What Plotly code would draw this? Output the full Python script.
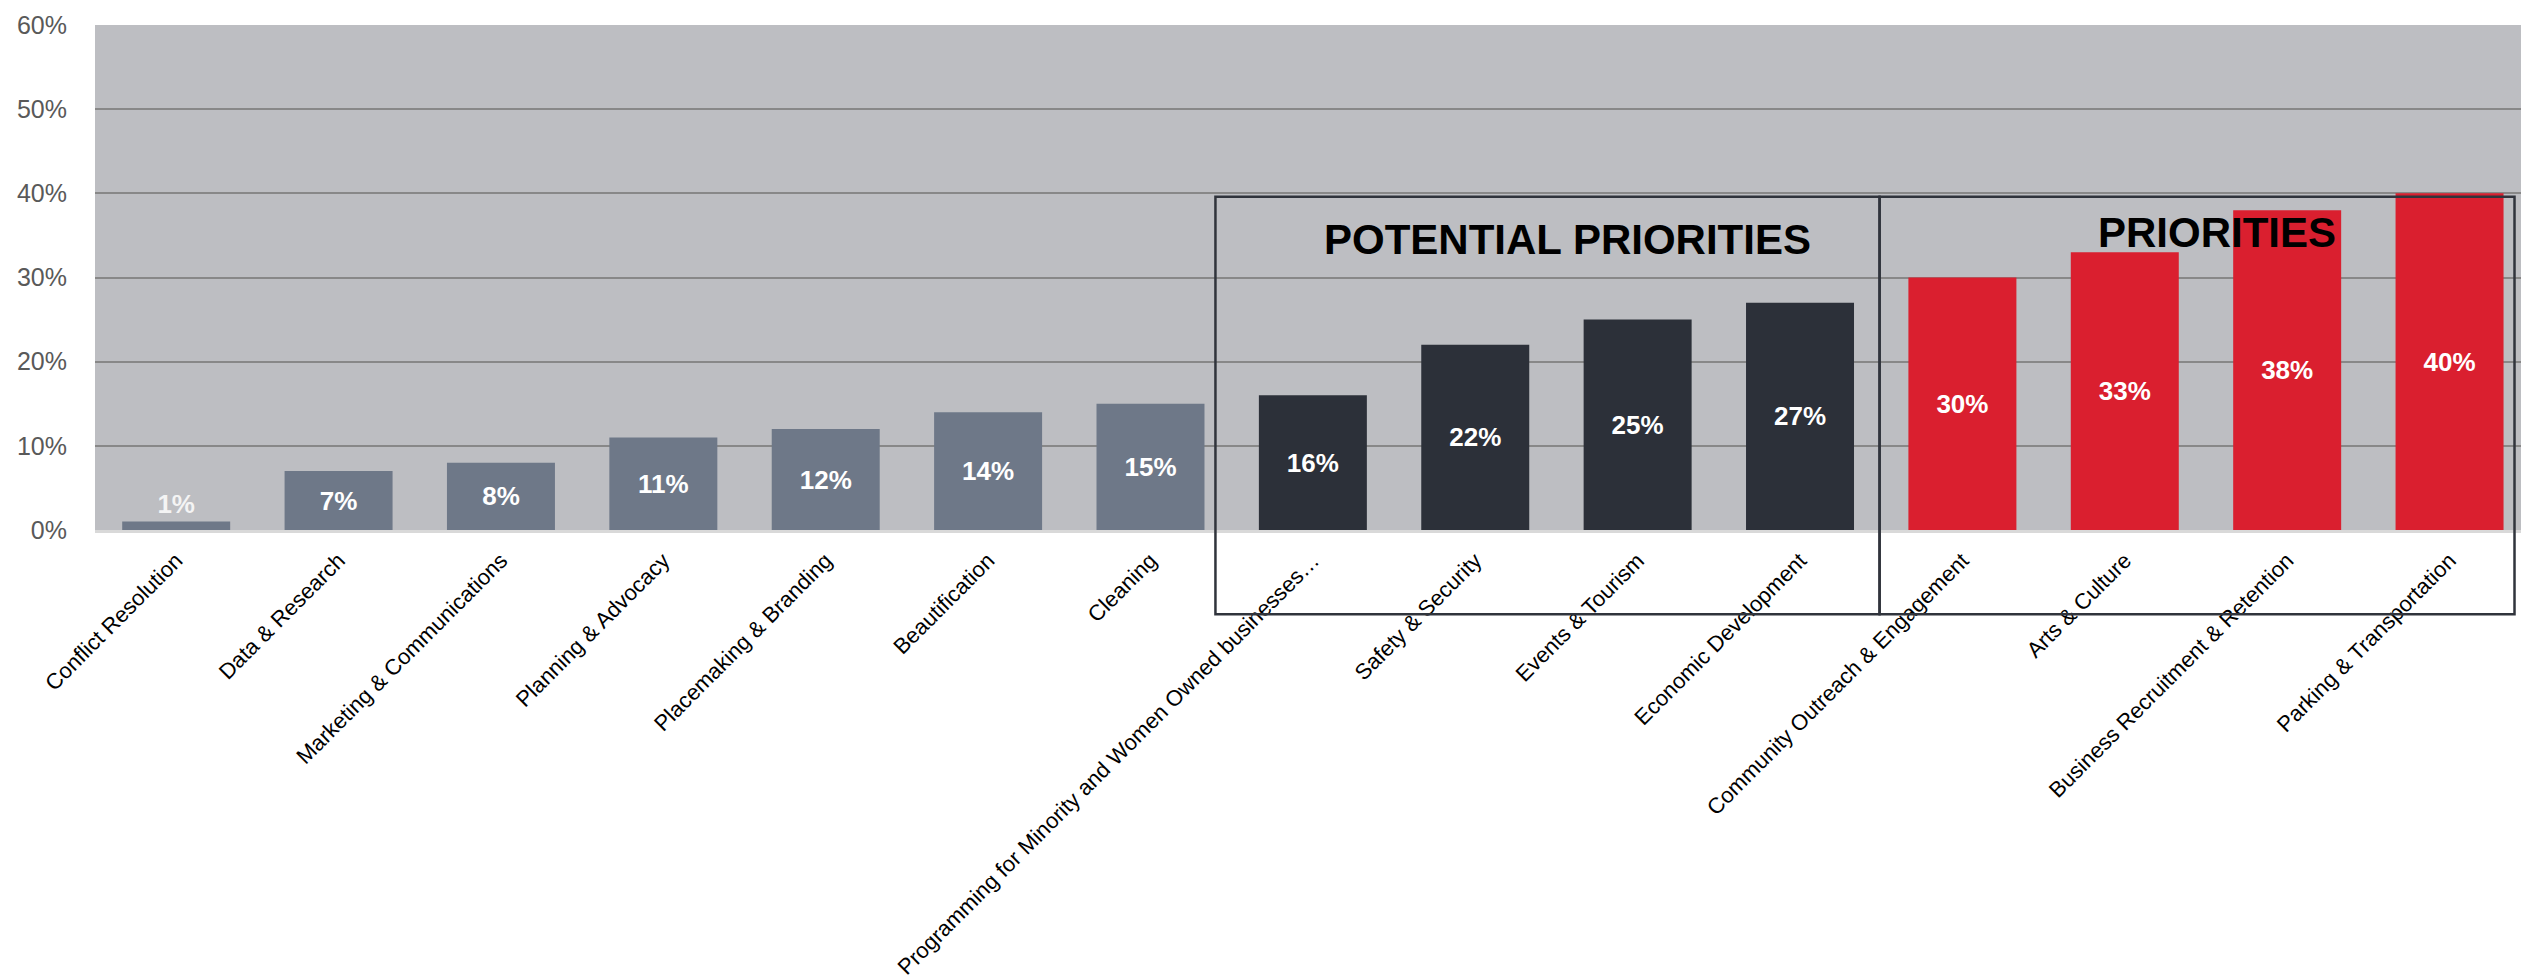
import plotly.graph_objects as go

# Survey results: share of respondents naming each area as a priority
categories = [
    "Conflict Resolution",
    "Data & Research",
    "Marketing & Communications",
    "Planning & Advocacy",
    "Placemaking & Branding",
    "Beautification",
    "Cleaning",
    "Programming for Minority and Women Owned businesses…",
    "Safety & Security",
    "Events & Tourism",
    "Economic Development",
    "Community Outreach & Engagement",
    "Arts & Culture",
    "Business Recruitment & Retention",
    "Parking & Transportation",
]
values = [1, 7, 8, 11, 12, 14, 15, 16, 22, 25, 27, 30, 33, 38, 40]
tiers = ["other"] * 7 + ["potential"] * 4 + ["priority"] * 4

y_ticks = [0, 10, 20, 30, 40, 50, 60]
y_tick_text = [f"{v}%" for v in y_ticks]

tier_colors = {"other": "#6e7888", "potential": "#2c3039", "priority": "#da1f2f"}

# Group frames (category units / percent units)
groups = [
    {"label": "POTENTIAL PRIORITIES", "x0": 6.40, "x1": 10.49, "tx": 8.57, "ty": 34.5, "size": 42},
    {"label": "PRIORITIES", "x0": 10.49, "x1": 14.40, "tx": 12.57, "ty": 35.4, "size": 42},
]
frame_top, frame_bottom = 39.6, -10.0

X_RANGE = [-0.5, 14.44]
Y_RANGE = [0, 60]

FONT = "Liberation Sans, Arial, Helvetica, sans-serif"

fig = go.Figure()
fig.add_trace(
    go.Bar(
        x=list(range(len(categories))),
        y=values,
        marker=dict(color=[tier_colors[t] for t in tiers], line=dict(width=0)),
        text=[f"{v}%" for v in values],
        textposition="auto",
        insidetextanchor="middle",
        textangle=0,
        constraintext="none",
        textfont=dict(family=FONT, size=26, color="white", weight="bold"),
        outsidetextfont=dict(family=FONT, size=26, color="#f4f4f4", weight="bold"),
        hoverinfo="skip",
    )
)


def px_x(v):
    return (v - X_RANGE[0]) / (X_RANGE[1] - X_RANGE[0])


def px_y(v):
    return (v - Y_RANGE[0]) / (Y_RANGE[1] - Y_RANGE[0])


for g in groups:
    fig.add_shape(
        type="rect",
        xref="paper",
        yref="paper",
        x0=px_x(g["x0"]),
        x1=px_x(g["x1"]),
        y0=px_y(frame_bottom),
        y1=px_y(frame_top),
        line=dict(color="#30343c", width=2.5),
        fillcolor="rgba(0,0,0,0)",
        layer="above",
    )
    fig.add_annotation(
        x=g["tx"],
        y=g["ty"],
        xref="x",
        yref="y",
        text=g["label"],
        showarrow=False,
        xanchor="center",
        yanchor="middle",
        font=dict(family=FONT, size=g["size"], color="black", weight="bold"),
    )

fig.update_layout(
    width=2521,
    height=980,
    margin=dict(l=95, r=0, t=25, b=450, pad=0, autoexpand=False),
    paper_bgcolor="white",
    plot_bgcolor="#bdbec2",
    bargap=0.335,
    showlegend=False,
    font=dict(family=FONT),
    xaxis=dict(
        range=X_RANGE,
        tickmode="array",
        tickvals=list(range(len(categories))),
        ticktext=categories,
        tickangle=-45,
        tickfont=dict(family=FONT, size=22, color="black"),
        ticks="outside",
        ticklen=6,
        tickcolor="rgba(0,0,0,0)",
        showgrid=False,
        showline=True,
        linecolor="#d9d9d9",
        linewidth=3,
        zeroline=False,
        automargin=False,
        fixedrange=True,
    ),
    yaxis=dict(
        range=Y_RANGE,
        tickmode="array",
        tickvals=y_ticks,
        ticktext=y_tick_text,
        tickfont=dict(family=FONT, size=25, color="#595959"),
        ticks="outside",
        ticklen=22,
        tickcolor="rgba(0,0,0,0)",
        showgrid=True,
        gridcolor="#888888",
        gridwidth=2,
        zeroline=False,
        showline=False,
        automargin=False,
        fixedrange=True,
    ),
)

fig.write_html("out.html")
